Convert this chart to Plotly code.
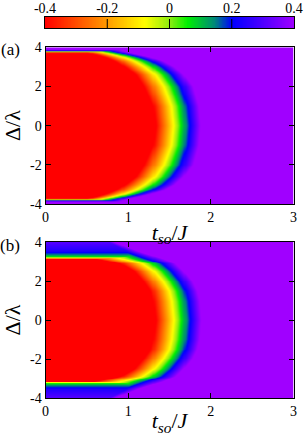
import numpy as np
import plotly.graph_objects as go

# ---------------- data ----------------
# colour scale range and colour-bar ticks
z_min, z_max = -0.4, 0.4
cb_tickvals = [-0.4, -0.2, 0.0, 0.2, 0.4]
cb_ticktext = ["-0.4", "-0.2", "0", "0.2", "0.4"]
cb_dashes = [-0.2, 0.0, 0.2]

# axis ticks
x_tickvals = [0, 1, 2, 3]
x_ticktext = ["0", "1", "2", "3"]
y_tickvals = [-4, -2, 0, 2, 4]
y_ticktext = ["-4", "-2", "0", "2", "4"]

# panel (a): t where red ends and t where purple starts, read at several |Delta/lambda|
absd_a = [0.0, 1.0, 2.0, 2.6, 3.0, 3.3, 3.5, 3.66, 3.75, 3.9, 4.0]
red_a = [1.33, 1.30, 1.19, 1.09, 0.96, 0.84, 0.72, 0.58, 0.45, 0.20, 0.00]
purp_a = [1.87, 1.85, 1.78, 1.67, 1.56, 1.42, 1.26, 1.08, 0.97, 0.89, 0.86]
flat_a = 3.72                       # |Delta| of the flat edge of the red region
vr_off_a = [0.0, 0.05, 0.10, 0.16]  # distance above the flat edge
vr_val_a = [-0.4, -0.05, 0.2, 0.4]  # value read there

# panel (b)
absd_b = [0.0, 1.0, 1.5, 2.0, 2.5, 2.9, 3.15, 3.5, 4.0]
red_b = [1.33, 1.30, 1.27, 1.18, 1.07, 0.90, 0.58, 0.42, 0.30]
purp_b = [1.88, 1.86, 1.83, 1.77, 1.67, 1.57, 1.42, 1.14, 0.82]
flat_b = 3.15
vr_off_b = [0.0, 0.04, 0.10, 0.20, 0.40, 0.85]
vr_val_b = [-0.4, -0.1, 0.05, 0.14, 0.24, 0.31]

# sampling grid
t_grid = np.linspace(0, 3, 241)
d_grid = np.linspace(-4, 4, 321)


def field(absd, red, purp, flat, vr_off, vr_val):
    T, D = np.meshgrid(t_grid, d_grid)
    A = np.abs(D)
    R = np.interp(A, absd, red)
    P = np.interp(A, absd, purp)
    z_band = np.clip(z_min + (z_max - z_min) * (T - R) / (P - R), z_min, z_max)
    z_flat = np.interp(A - flat, vr_off, vr_val, left=z_min)
    return np.maximum(z_band, z_flat)


z_a = field(absd_a, red_a, purp_a, flat_a, vr_off_a, vr_val_a)
z_b = field(absd_b, red_b, purp_b, flat_b, vr_off_b, vr_val_b)
cb_vals = np.linspace(z_min, z_max, 321)

colorscale = [
    [0.00, "#ff0000"],
    [0.25, "#ff9c00"],
    [0.40, "#ffff00"],
    [0.50, "#8cec10"],
    [0.57, "#00f000"],
    [0.68, "#00887a"],
    [0.75, "#0000ff"],
    [1.00, "#a000ff"],
]

FONT = "Liberation Serif"

fig = go.Figure()
fig.add_trace(go.Heatmap(x=t_grid, y=d_grid, z=z_a, coloraxis="coloraxis",
                         zsmooth="best", xaxis="x", yaxis="y", hoverinfo="skip"))
fig.add_trace(go.Heatmap(x=t_grid, y=d_grid, z=z_b, coloraxis="coloraxis",
                         zsmooth="best", xaxis="x2", yaxis="y2", hoverinfo="skip"))
fig.add_trace(go.Heatmap(x=cb_vals, y=[0], z=[cb_vals], coloraxis="coloraxis",
                         zsmooth="best", xaxis="x3", yaxis="y3", hoverinfo="skip"))

W, H = 305, 436
xdom = [45.5 / W, 293.5 / W]

ax_common = dict(showline=True, linecolor="black", linewidth=1, mirror="ticks",
                 ticks="inside", ticklen=5, tickcolor="black", showgrid=False,
                 zeroline=False, automargin=False,
                 tickfont=dict(family=FONT, size=14, color="black"))

xtitle = dict(text="<i>t</i><sub><i>so</i></sub>/<i>J</i>",
              font=dict(family=FONT, size=22, color="black"), standoff=0)
ytitle = dict(text="Δ/λ", font=dict(family=FONT, size=22, color="black"), standoff=4)

fig.update_layout(
    width=W, height=H,
    margin=dict(l=0, r=0, t=0, b=0, autoexpand=False),
    paper_bgcolor="white", plot_bgcolor="white",
    showlegend=False,
    coloraxis=dict(colorscale=colorscale, cmin=z_min, cmax=z_max, showscale=False),
    xaxis=dict(domain=xdom, range=[0, 3], tickvals=x_tickvals, ticktext=x_ticktext,
               anchor="y", title=xtitle, **ax_common),
    yaxis=dict(domain=[1 - 204 / H, 1 - 47.3 / H], range=[-4, 4], tickvals=y_tickvals,
               ticktext=y_ticktext, anchor="x", title=ytitle, **ax_common),
    xaxis2=dict(domain=xdom, range=[0, 3], tickvals=x_tickvals, ticktext=x_ticktext,
                anchor="y2", title=xtitle, **ax_common),
    yaxis2=dict(domain=[1 - 398 / H, 1 - 242 / H], range=[-4, 4], tickvals=y_tickvals,
                ticktext=y_ticktext, anchor="x2", title=ytitle, **ax_common),
    xaxis3=dict(domain=[45 / W, 294 / W], range=[z_min, z_max], anchor="y3", side="top",
                tickvals=cb_tickvals, ticktext=cb_ticktext, ticks="", showline=True,
                linecolor="black", linewidth=1, mirror=True, showgrid=False, zeroline=False,
                automargin=False, ticklabelstandoff=-3,
                tickfont=dict(family=FONT, size=14, color="black")),
    yaxis3=dict(domain=[1 - 28 / H, 1 - 17 / H], range=[-0.5, 0.5], anchor="x3",
                showticklabels=False, ticks="", showline=True, linecolor="black",
                linewidth=1, mirror=True, showgrid=False, zeroline=False, automargin=False),
)

for v in cb_dashes:
    fig.add_shape(type="line", xref="x3", yref="y3 domain", x0=v, x1=v, y0=0, y1=1,
                  line=dict(color="black", width=1, dash="dash"), layer="above")

fig.add_annotation(text="(a)", xref="paper", yref="paper", x=10 / W, y=1 - 49 / H,
                   xanchor="center", yanchor="middle", showarrow=False,
                   font=dict(family=FONT, size=17, color="black"))
fig.add_annotation(text="(b)", xref="paper", yref="paper", x=10 / W, y=1 - 246 / H,
                   xanchor="center", yanchor="middle", showarrow=False,
                   font=dict(family=FONT, size=17, color="black"))

fig.write_html("out.html", config={"displayModeBar": False},
               post_script="document.body.style.margin='0px';"
                           "document.body.style.overflow='hidden';")
